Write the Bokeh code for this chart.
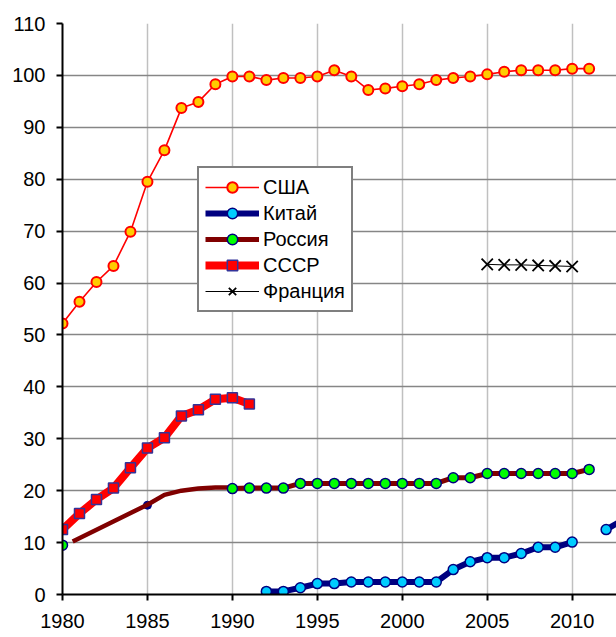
from bokeh.plotting import figure
from bokeh.models import Legend, LegendItem, SingleIntervalTicker, Range1d
from bokeh.embed import file_html
from bokeh.resources import INLINE

nan = float("nan")

# ---- data ----
usa_years = list(range(1980, 2012))
usa = [52.2, 56.4, 60.2, 63.3, 69.9, 79.5, 85.6, 93.7, 94.9, 98.3, 99.8, 99.8,
       99.1, 99.5, 99.5, 99.8, 101.0, 99.8, 97.2, 97.5, 97.9, 98.3, 99.1, 99.5,
       99.8, 100.2, 100.7, 101.0, 101.0, 101.0, 101.3, 101.3]

china_years = list(range(1992, 2014))
china = [0.6, 0.6, 1.3, 2.1, 2.1, 2.4, 2.4, 2.4, 2.4, 2.4, 2.4, 4.8, 6.3, 7.1,
         7.1, 7.9, 9.1, 9.1, 10.1, nan, 12.5, 14.4]

russia_years = list(range(1990, 2012))
russia = [20.4, 20.5, 20.5, 20.5, 21.4, 21.4, 21.4, 21.4, 21.4, 21.4, 21.4,
          21.4, 21.4, 22.5, 22.5, 23.3, 23.3, 23.3, 23.3, 23.3, 23.3, 24.1]
russia_early_years = [1980.6, 1985, 1986, 1987, 1988, 1989, 1990]
russia_early = [10.2, 17.3, 19.2, 20.0, 20.4, 20.6, 20.6]
russia_1980_year = [1980]
russia_1980 = [9.5]
hidden_year = [1985]
hidden_val = [17.2]

ussr_years = list(range(1980, 1992))
ussr = [12.5, 15.6, 18.3, 20.5, 24.4, 28.2, 30.2, 34.4, 35.6, 37.6, 37.9, 36.7]

france_years = list(range(2005, 2011))
france = [63.6, 63.5, 63.5, 63.4, 63.3, 63.2]

labels = ["США", "Китай", "Россия", "СССР", "Франция"]

FONT = "Liberation Sans"

p = figure(width=616, height=637, output_backend="svg", toolbar_location=None,
           x_range=Range1d(1980, 2012.61), y_range=Range1d(0, 110),
           min_border_left=62, min_border_right=0, min_border_top=23,
           min_border_bottom=43)
p.outline_line_color = None
p.background_fill_color = "white"

for ax, interval in ((p.xaxis[0], 5), (p.yaxis[0], 10)):
    ax.ticker = SingleIntervalTicker(interval=interval, num_minor_ticks=0)
    ax.axis_line_color = "black"
    ax.axis_line_width = 2
    ax.major_tick_line_color = "black"
    ax.major_tick_line_width = 2
    ax.major_tick_out = 6
    ax.major_tick_in = 0
    ax.minor_tick_line_color = None
    ax.major_label_text_font = FONT
    ax.major_label_text_font_size = "20px"
    ax.major_label_text_color = "black"
p.xaxis.major_label_standoff = 13
p.yaxis.major_label_standoff = 11

p.xgrid.grid_line_color = "#c0c0c0"
p.xgrid.grid_line_width = 1.5
p.ygrid.grid_line_color = "#868686"
p.ygrid.grid_line_width = 1.5

# USA
l_usa = p.line(usa_years, usa, line_color="#ff0000", line_width=1.6)
s_usa = p.scatter(usa_years, usa, marker="circle", size=10, fill_color="#ffcc00",
                  line_color="#ff0000", line_width=2)
# China
l_ch = p.line(china_years, china, line_color="#000080", line_width=6)
s_ch = p.scatter(china_years, china, marker="circle", size=10, fill_color="#00ccff",
                 line_color="#000080", line_width=1.5)
# hidden marker behind Russia line
p.scatter(hidden_year, hidden_val, marker="circle", size=8, fill_color="#000080",
          line_color="#000080")
# Russia
p.line(russia_early_years, russia_early, line_color="#800000", line_width=4.5)
l_ru = p.line(russia_years, russia, line_color="#800000", line_width=5)
s_ru = p.scatter(russia_years, russia, marker="circle", size=10, fill_color="#00ff00",
                 line_color="#000080", line_width=1.5)
p.scatter(russia_1980_year, russia_1980, marker="circle", size=10, fill_color="#00ff00",
          line_color="#000080", line_width=1.5)
# USSR
l_su = p.line(ussr_years, ussr, line_color="#ff0000", line_width=8)
s_su = p.scatter(ussr_years, ussr, marker="square", size=10, fill_color="#ff0000",
                 line_color="#333399", line_width=1.5)
# France
l_fr = p.line(france_years, france, line_color="black", line_width=1)
s_fr = p.scatter(france_years, france, marker="x", size=16, line_color="black",
                 line_width=1.8)

items = [LegendItem(label=labels[0], renderers=[l_usa, s_usa]),
         LegendItem(label=labels[1], renderers=[l_ch, s_ch]),
         LegendItem(label=labels[2], renderers=[l_ru, s_ru]),
         LegendItem(label=labels[3], renderers=[l_su, s_su]),
         LegendItem(label=labels[4], renderers=[l_fr, s_fr])]
legend = Legend(items=items, location=(135, 282), glyph_width=54, glyph_height=26,
                label_height=26, label_standoff=4, spacing=0, padding=6, margin=0,
                border_line_color="black", border_line_width=2,
                background_fill_color="white", background_fill_alpha=1,
                label_text_font=FONT, label_text_font_size="20px",
                label_text_color="black")
p.add_layout(legend, "center")

open("out.html", "w").write(file_html(p, INLINE))
